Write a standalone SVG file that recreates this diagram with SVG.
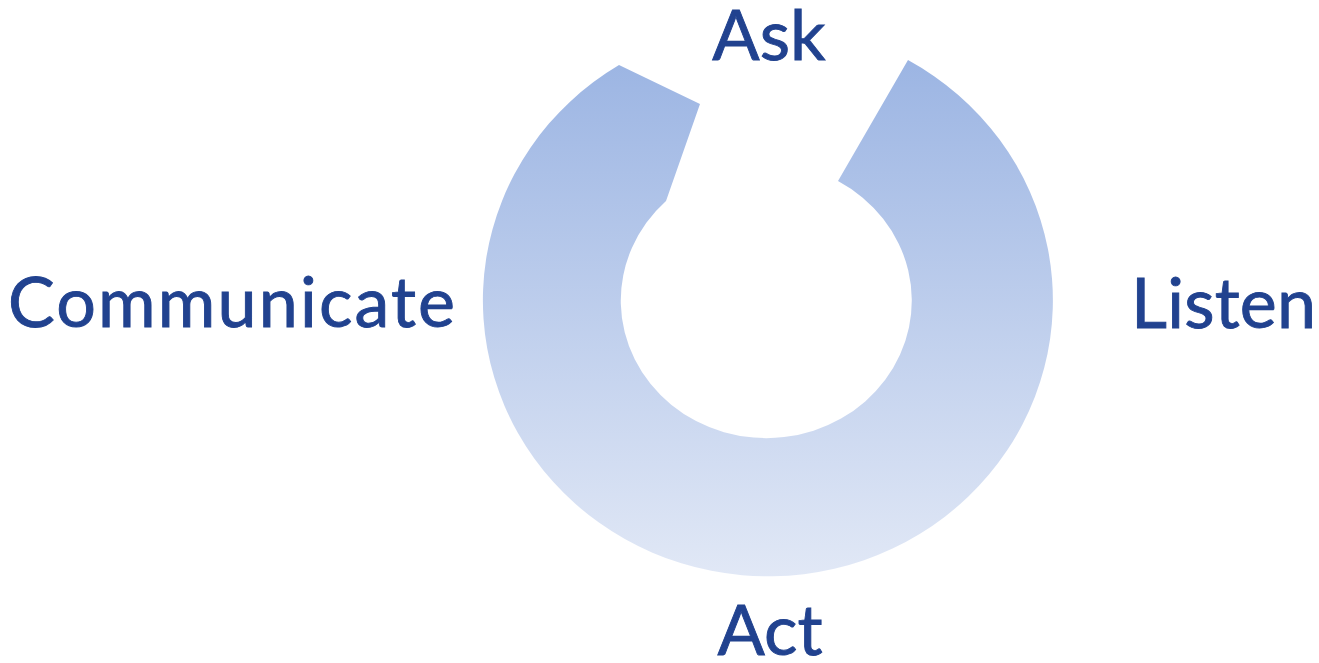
<svg xmlns="http://www.w3.org/2000/svg" width="1319" height="663" viewBox="0 0 1319 663">
  <style>
    .label { font-family: Lato, "Noto Sans", sans-serif; font-size: 70px; fill: #21428f; stroke: #21428f; stroke-width: 0.9px; }
  </style>
  <defs>
    <linearGradient id="ringFill" gradientUnits="userSpaceOnUse" x1="0" y1="60" x2="0" y2="576">
      <stop offset="0" stop-color="#9cb5e3"/>
      <stop offset="1" stop-color="#e1e8f6"/>
    </linearGradient>
  </defs>
  <rect width="1319" height="663" fill="#ffffff"/>

  <!-- open ring: outer arc, notch on the left, inner arc back to the right notch -->
  <g id="ring">
    <path d="M 908 60 A 285 276 0 1 1 619 65 L 700 104 L 666 201 A 145.5 137.5 0 1 0 838 181 Z" fill="url(#ringFill)"/>
  </g>

  <g id="ask"><text class="label" x="769" y="60" text-anchor="middle">Ask</text></g>
  <g id="listen"><text class="label" x="1131" y="328" textLength="185" lengthAdjust="spacing">Listen</text></g>
  <g id="act"><text class="label" x="770" y="655" text-anchor="middle">Act</text></g>
  <g id="communicate"><text class="label" x="8" y="327" textLength="447" lengthAdjust="spacing">Communicate</text></g>
  <g id="connectors"/>
</svg>
